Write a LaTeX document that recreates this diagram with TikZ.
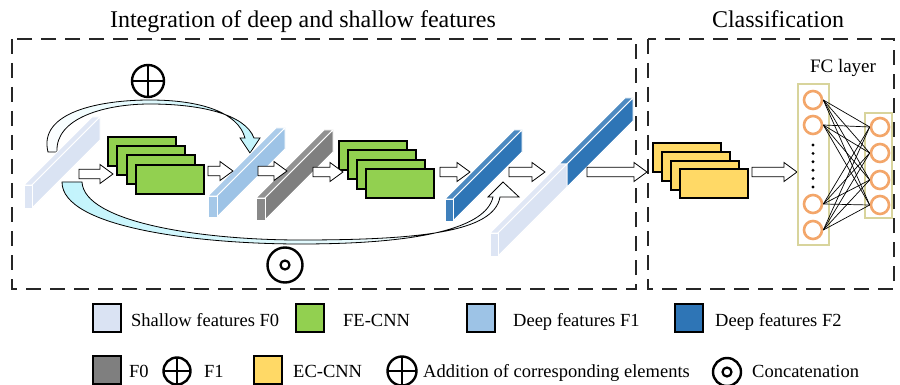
\documentclass[tikz,border=0pt]{standalone}
\usepackage{fontspec}
\setmainfont{Liberation Serif}
\usetikzlibrary{calc}
\definecolor{shallowc}{HTML}{DAE3F3}
\definecolor{deeponec}{HTML}{9DC3E6}
\definecolor{deeptwoc}{HTML}{2E75B6}
\definecolor{grayc}{HTML}{7F7F7F}
\definecolor{greenc}{HTML}{92D050}
\definecolor{yellowc}{HTML}{FFD966}
\definecolor{orangec}{HTML}{F3A66A}
\definecolor{khakic}{HTML}{D8D49C}
\definecolor{glowc}{HTML}{C2F4FC}
\tikzset{
  dashbox/.style={draw=black!85, line width=1.3pt, dash pattern=on 15pt off 9pt},
  barface/.style={draw=white, line width=0.8pt, line join=round},
  blockarrow/.style={fill=white, draw=black, line width=0.8pt, line join=miter},
  fmap/.style={draw=black, line width=2.2pt, line join=miter},
  bandarrow/.style={draw=black, line width=0.8pt, line join=miter},
  neuron/.style={circle, draw=orangec, line width=2.6pt, fill=white, minimum size=18pt, inner sep=0pt},
  fcbox/.style={draw=khakic, line width=2.4pt},
  fcline/.style={draw=black, line width=0.7pt},
  legsq/.style={draw=black, line width=2.4pt, minimum size=28pt, inner sep=0pt},
  legtext/.style={font=\fontsize{18.5}{22}\selectfont, inner sep=0pt, anchor=base west},
  titletext/.style={font=\fontsize{24}{28}\selectfont, inner sep=0pt, anchor=base},
  plussym/.style={circle, draw=black, line width=2.4pt, minimum size=#1, inner sep=0pt,
    path picture={\draw[line width=2.4pt] (path picture bounding box.north) -- (path picture bounding box.south)
      (path picture bounding box.west) -- (path picture bounding box.east);}},
  concatsym/.style={circle, draw=black, line width=2.4pt, minimum size=#1, inner sep=0pt,
    path picture={\draw[line width=2.2pt] (path picture bounding box.center) circle (4.5pt);}}
}
% x0 y0 w h d colour
\newcommand\FeatBar[6]{%
  \path[barface, fill=#6!85!white] (#1,#2) -- ++(#5,-#5) -- ++(#3,0) -- ++(-#5,#5) -- cycle;
  \path[barface, fill=#6] (#1+#3,#2) -- ++(#5,-#5) -- ++(0,#4) -- ++(-#5,#5) -- cycle;
  \path[barface, fill=#6!92!white] (#1,#2) rectangle ++(#3,#4);
}
\newcommand\FeatBarBack[6]{%
  \path[barface, fill=#6!85!white] (#1,#2) -- ++(#5,-#5) -- ++(#3,0) -- ++(-#5,#5) -- cycle;
  \path[barface, fill=#6] (#1+#3,#2) -- ++(#5,-#5) -- ++(0,#4) -- ++(-#5,#5) -- cycle;
}
% x1 x2 y
\newcommand\BlkArrow[3]{%
  \path[blockarrow] (#1,#3-4.8) -- (#2-13,#3-4.8) -- (#2-13,#3-9.5) -- (#2,#3)
    -- (#2-13,#3+9.5) -- (#2-13,#3+4.8) -- (#1,#3+4.8) -- cycle;
}
% x y colour
\newcommand\FMapRect[3]{%
  \path[fmap, fill=#3] (#1,#2) rectangle ++(68,29);
}
\begin{document}
\begin{tikzpicture}[x=1pt,y=-1pt]
\useasboundingbox (0,0) rectangle (900,385);
\fill[white] (0,0) rectangle (900,385);

% titles
\node[titletext] (title1) at (303,28) {Integration of deep and shallow features};
\node[titletext] (title2) at (778,28) {Classification};

% dashed frames
\draw[dashbox] (12,39) rectangle (636,289);
\draw[dashbox] (648,39) rectangle (894,289);

% addition skip arrow (upper)
\path[bandarrow, left color=white, right color=glowc]
  (48,152) .. controls (38,112) and (100,100) .. (150,100)
  .. controls (200,100) and (238,112) .. (245,138)
  -- (240,138) -- (250,153) -- (260,138) -- (254,138)
  .. controls (245,114) and (200,104) .. (150,104)
  .. controls (105,104) and (55,118) .. (57,152) -- cycle;

% concatenation skip arrow (lower)
\path[bandarrow, left color=glowc, right color=white]
  (62,182) .. controls (62,228) and (200,244) .. (300,244)
  .. controls (420,244) and (486,228) .. (493,197)
  -- (488,197) -- (503,182) -- (519,197) -- (500,197)
  .. controls (494,232) and (420,240) .. (300,240)
  .. controls (200,240) and (84,222) .. (82,182) -- cycle;

% symbols in the diagram
\node[plussym=32pt] (addsym) at (148,81) {};
\node[concatsym=35pt] (catsym) at (285,265) {};

% feature bars
\FeatBar{24}{185}{8}{23}{68}{shallowc}
\FeatBar{208}{196}{9}{21}{68}{deeponec}
\FeatBar{256}{198}{9}{22}{68}{grayc}
\FeatBar{445}{199}{8}{22}{69}{deeptwoc}
\FeatBarBack{559}{164}{8}{23}{66}{deeptwoc}
\FeatBar{490}{233}{8}{23}{69}{shallowc}

% feature map stacks
\FMapRect{108}{137}{greenc}
\FMapRect{117}{146}{greenc}
\FMapRect{127}{155}{greenc}
\FMapRect{136}{165}{greenc}
\FMapRect{339}{141}{greenc}
\FMapRect{348}{150}{greenc}
\FMapRect{357}{160}{greenc}
\FMapRect{366}{169}{greenc}
\FMapRect{653}{143}{yellowc}
\FMapRect{662}{152}{yellowc}
\FMapRect{671}{161}{yellowc}
\FMapRect{680}{169}{yellowc}

% block arrows
\BlkArrow{79}{113}{174}
\BlkArrow{208}{233}{171}
\BlkArrow{258}{287}{171}
\BlkArrow{313}{343}{172}
\BlkArrow{440}{470}{172}
\BlkArrow{509}{545}{172}
\BlkArrow{587}{647}{172}
\BlkArrow{752}{797}{172}

% FC layer
\node[font=\fontsize{19}{22}\selectfont, inner sep=0pt, anchor=base] (fclabel) at (843,73) {FC layer};
\draw[fcbox] (798,84) rectangle (829,245);
\draw[fcbox] (865,113) rectangle (892,218);
\node[neuron] (l1) at (813,100) {};
\node[neuron] (l2) at (813,125) {};
\node[neuron] (l3) at (813,204) {};
\node[neuron] (l4) at (813,230) {};
\node[neuron] (r1) at (880,127) {};
\node[neuron] (r2) at (880,153) {};
\node[neuron] (r3) at (880,180) {};
\node[neuron] (r4) at (880,205) {};
\foreach \i in {1,2,3,4} {
  \foreach \j in {1,2,3,4} {
    \draw[fcline] (l\i.east) -- (r\j.west);
  }
}
\foreach \yy in {145,153.4,161.8,170.2,178.6,187} {
  \fill[black] (813,\yy) circle (1.6);
}

% legend row 1
\node[legsq, fill=shallowc] (sq1) at (107,318) {};
\node[legtext] (lt1) at (131,326) {Shallow features F0};
\node[legsq, fill=greenc] (sq2) at (310,318) {};
\node[legtext] (lt2) at (343,326) {FE-CNN};
\node[legsq, fill=deeponec] (sq3) at (481,318) {};
\node[legtext] (lt3) at (513,326) {Deep features F1};
\node[legsq, fill=deeptwoc] (sq4) at (689,318) {};
\node[legtext] (lt4) at (715,326) {Deep features F2};

% legend row 2
\node[legsq, fill=grayc] (sq5) at (107,370) {};
\node[legtext] (lt5) at (129,377) {F0};
\node[plussym=27pt] (lp1) at (177,371) {};
\node[legtext] (lt6) at (204,377) {F1};
\node[legsq, fill=yellowc] (sq6) at (268,370) {};
\node[legtext] (lt7) at (293,377) {EC-CNN};
\node[plussym=29pt] (lp2) at (402,371) {};
\node[legtext] (lt8) at (423,377) {Addition of corresponding elements};
\node[concatsym=28pt] (lc1) at (727,372) {};
\node[legtext] (lt9) at (752,377) {Concatenation};
\end{tikzpicture}
\end{document}
